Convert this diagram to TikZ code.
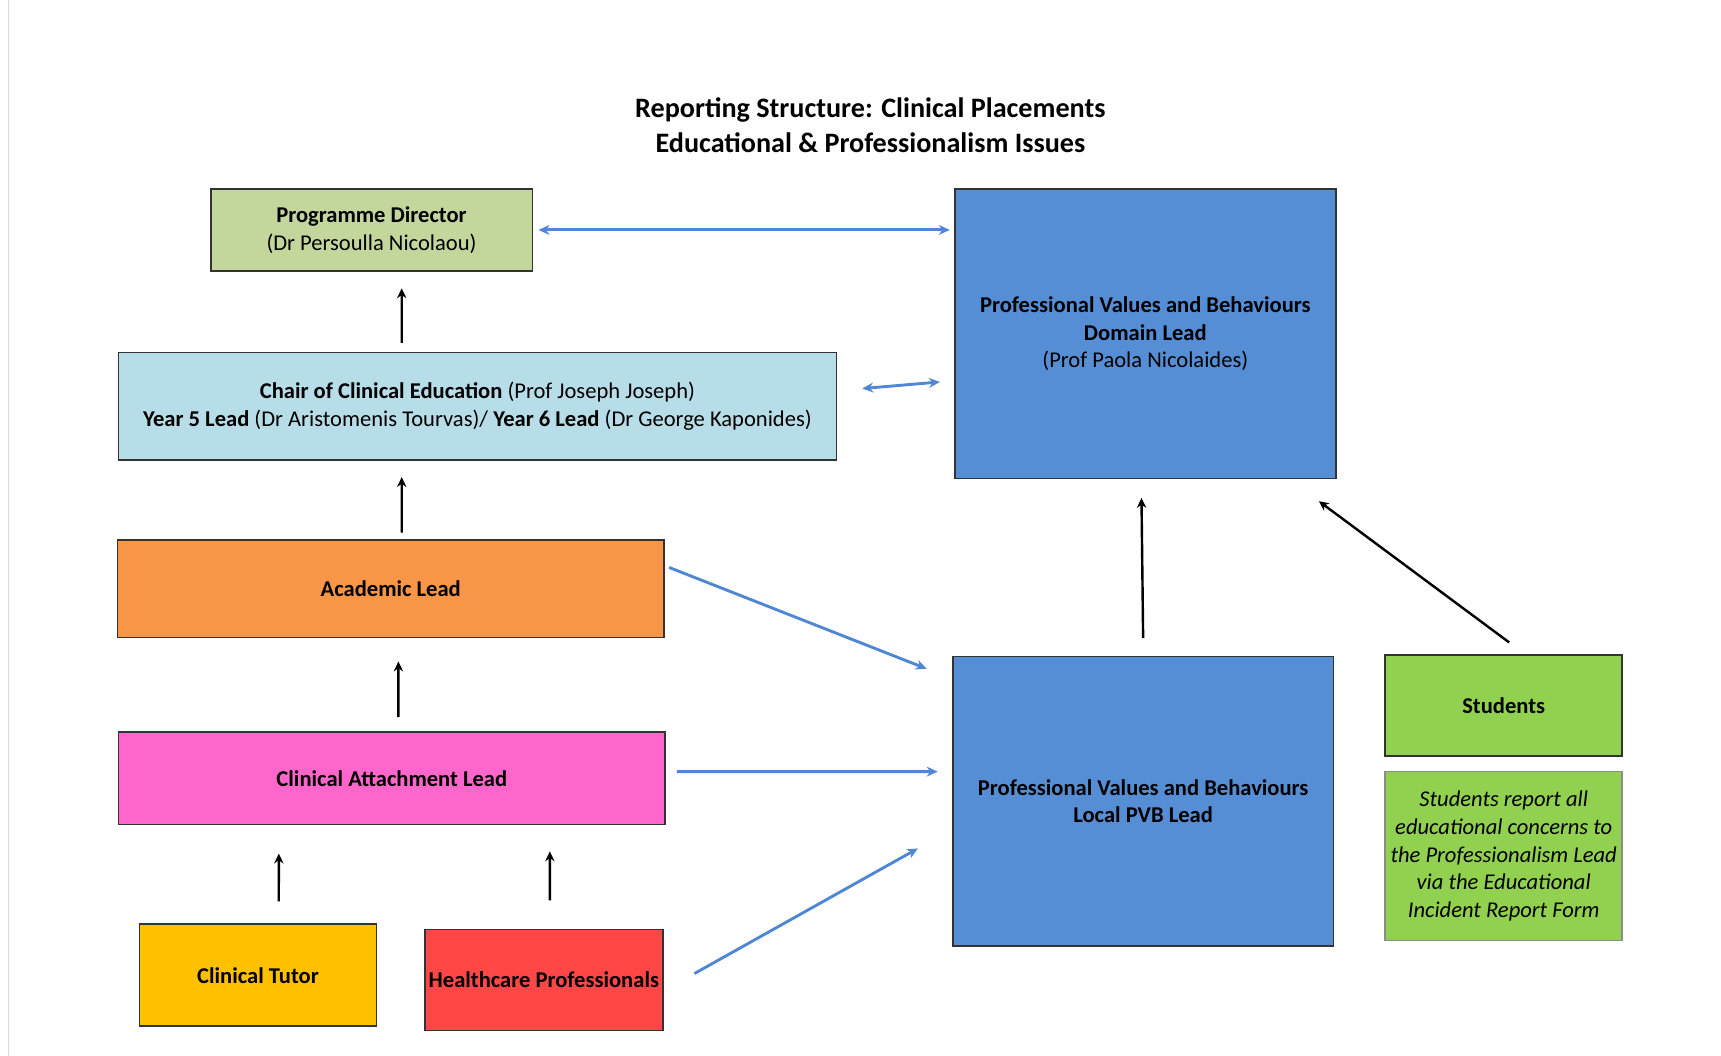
\documentclass[tikz,border=0pt]{standalone}
\usepackage{fontspec}
\setmainfont{Carlito}
\usepackage{tikz}
\usetikzlibrary{arrows.meta}

\definecolor{pdgreen}{HTML}{C3D69B}
\definecolor{chairblue}{HTML}{B7DEE8}
\definecolor{pvbblue}{HTML}{558ED5}
\definecolor{acadorange}{HTML}{F79646}
\definecolor{calpink}{HTML}{FF66CC}
\definecolor{tutoryellow}{HTML}{FFC000}
\definecolor{hpred}{HTML}{FF4747}
\definecolor{studgreen}{HTML}{92D050}
\definecolor{linkblue}{HTML}{4F87D2}

\begin{document}
\begin{tikzpicture}[x=0.02cm,y=-0.02cm]
	\useasboundingbox (0,0) rectangle (1568,962.1);
	\draw[black!15, line width=0.6pt] (8,0) -- (8,962.1);
	\node[font=\bfseries\fontsize{14.6}{18.1}\selectfont, align=center] (title) at (793,114)
		{Reporting Structure: Clinical Placements\\Educational \& Professionalism Issues};

	\begin{scope}[every node/.style={draw=black!80, line width=0.8pt, align=center, inner sep=0pt,
	              font=\fontsize{11.7}{14.3}\selectfont}]
		\node[fill=pdgreen, minimum width=5.86cm, minimum height=1.5cm] (pd) at (338.5,209.5)
			{\textbf{Programme Director}\\(Dr Persoulla Nicolaou)};
		\node[fill=pvbblue, minimum width=6.94cm, minimum height=5.28cm] (domain) at (1043.5,304)
			{\textbf{Professional Values and Behaviours}\\\textbf{Domain Lead}\\(Prof Paola Nicolaides)};
		\node[fill=chairblue, minimum width=13.08cm, minimum height=1.96cm] (chair) at (435,370)
			{\textbf{Chair of Clinical Education} (Prof Joseph Joseph)\\
			 \textbf{Year 5 Lead} (Dr Aristomenis Tourvas)/ \textbf{Year 6 Lead} (Dr George Kaponides)};
		\node[fill=acadorange, minimum width=9.96cm, minimum height=1.78cm] (acad) at (356,536.5)
			{\textbf{Academic Lead}};
		\node[fill=calpink, minimum width=9.96cm, minimum height=1.68cm] (cal) at (357,709)
			{\textbf{Clinical Attachment Lead}};
		\node[fill=tutoryellow, minimum width=4.32cm, minimum height=1.86cm] (tutor) at (235,888.5)
			{\textbf{Clinical Tutor}};
		\node[fill=hpred, minimum width=4.34cm, minimum height=1.84cm] (hp) at (495.5,893)
			{\textbf{Healthcare Professionals}};
		\node[fill=pvbblue, minimum width=6.94cm, minimum height=5.28cm] (local) at (1041.5,730)
			{\textbf{Professional Values and Behaviours}\\\textbf{Local PVB Lead}};
		\node[fill=studgreen, minimum width=4.32cm, minimum height=1.84cm] (students) at (1370,643)
			{\textbf{Students}};
		\node[fill=studgreen, draw=black!45, minimum width=4.32cm, minimum height=3.08cm] (note) at (1370,780)
			{\itshape Students report all\\\itshape educational concerns to\\\itshape the Professionalism Lead\\
			 \itshape via the Educational\\\itshape Incident Report Form};
	\end{scope}

	\begin{scope}[blackarrow/.style={-{Stealth[length=1.8mm,width=1.7mm]}, line width=1.25pt, black},
	              bluearrow/.style={-{Stealth[length=2mm,width=1.8mm]}, line width=1.5pt, linkblue},
	              bluedouble/.style={{Stealth[length=2mm,width=1.8mm]}-{Stealth[length=2mm,width=1.8mm]},
	                                 line width=1.5pt, linkblue}]
		% two way links to the domain lead
		\draw[bluedouble, shorten <=0.1cm, shorten >=0.08cm] (pd.east) -- (pd.east -| domain.west);
		\draw[bluedouble] ([xshift=0.46cm,yshift=0.32cm]chair.east) -- ([xshift=-0.26cm,yshift=-0.88cm]domain.west);
		% reporting line on the left
		\draw[blackarrow] ([xshift=-1.38cm,yshift=0.16cm]chair.north) -- ([xshift=0.55cm,yshift=-0.3cm]pd.south);
		\draw[blackarrow] ([xshift=0.2cm,yshift=0.12cm]acad.north) -- ([xshift=-1.38cm,yshift=-0.3cm]chair.south);
		\draw[blackarrow] ([xshift=0.12cm,yshift=0.26cm]cal.north) -- ([xshift=0.14cm,yshift=-0.42cm]acad.south);
		\draw[blackarrow] ([xshift=0.38cm,yshift=0.4cm]tutor.north) -- ([xshift=-2.06cm,yshift=-0.52cm]cal.south);
		\draw[blackarrow] ([xshift=0.11cm,yshift=0.52cm]hp.north) -- ([xshift=2.88cm,yshift=-0.48cm]cal.south);
		% into the local lead
		\draw[bluearrow] ([xshift=0.08cm,yshift=0.39cm]acad.east) -- ([xshift=-0.46cm,yshift=-0.24cm]local.north west);
		\draw[bluearrow] ([xshift=0.2cm,yshift=0.12cm]cal.east) -- ([xshift=-0.26cm,yshift=0.54cm]local.west);
		\draw[bluearrow] ([xshift=0.56cm,yshift=0.12cm]hp.east) -- ([xshift=-0.62cm,yshift=-0.86cm]local.west);
		% up to the domain lead
		\draw[blackarrow] ([yshift=0.32cm]local.north) -- ([xshift=-0.07cm,yshift=-0.34cm]domain.south);
		\draw[blackarrow] ([xshift=0.1cm,yshift=0.22cm]students.north) -- ([xshift=-0.32cm,yshift=-0.4cm]domain.south east);
	\end{scope}
\end{tikzpicture}
\end{document}
